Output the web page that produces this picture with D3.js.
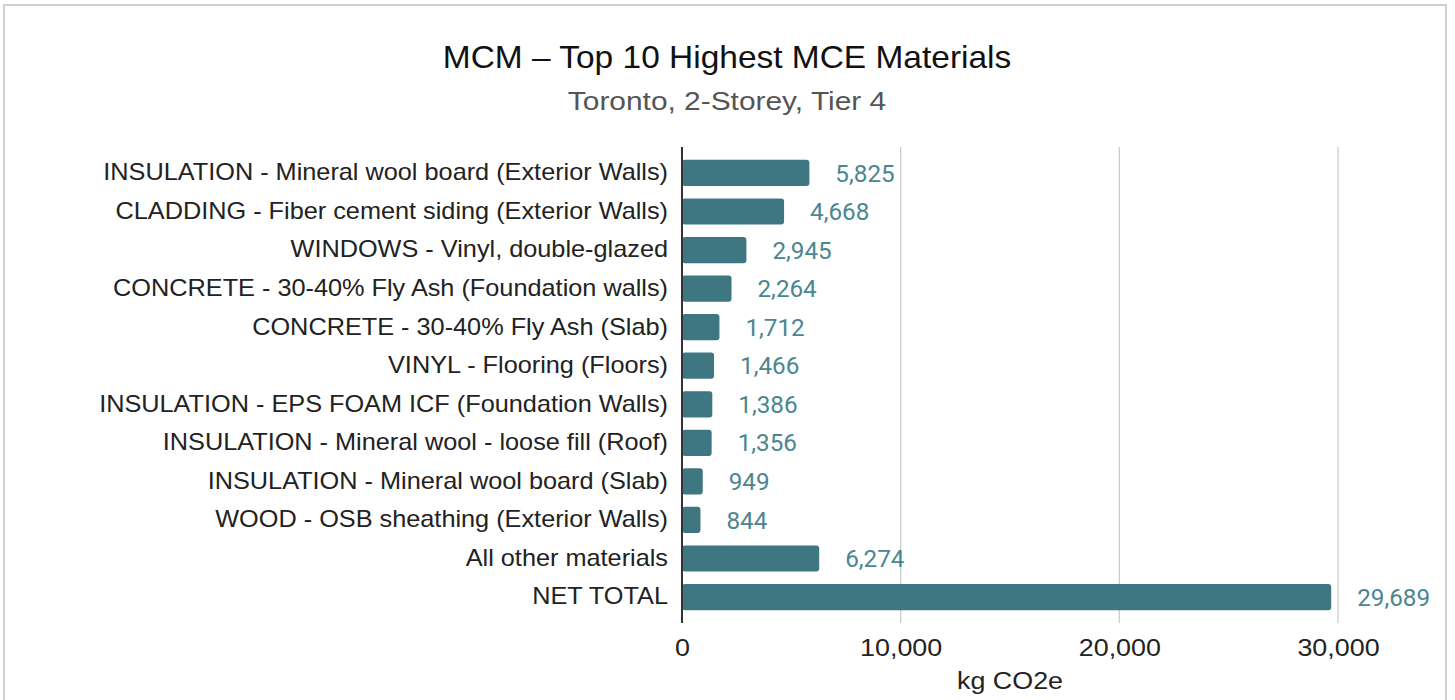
<!DOCTYPE html>
<html>
<head>
<meta charset="utf-8">
<script src="https://cdn.jsdelivr.net/npm/d3@7"></script>
<style>
  body { margin: 0; background: #fff; }
  svg text { font-family: "Liberation Sans", Arial, sans-serif; }
</style>
</head>
<body>
<div id="chart"></div>
<script>
// Data
var categories = [
  "INSULATION - Mineral wool board (Exterior Walls)",
  "CLADDING - Fiber cement siding (Exterior Walls)",
  "WINDOWS - Vinyl, double-glazed",
  "CONCRETE - 30-40% Fly Ash (Foundation walls)",
  "CONCRETE - 30-40% Fly Ash (Slab)",
  "VINYL - Flooring (Floors)",
  "INSULATION - EPS FOAM ICF (Foundation Walls)",
  "INSULATION - Mineral wool - loose fill (Roof)",
  "INSULATION - Mineral wool board (Slab)",
  "WOOD - OSB sheathing (Exterior Walls)",
  "All other materials",
  "NET TOTAL"
];
var values = [5825, 4668, 2945, 2264, 1712, 1466, 1386, 1356, 949, 844, 6274, 29689];
var xTicks = [0, 10000, 20000, 30000];

var width = 1455;
var height = 700;
var margin = { top: 147, right: 117, bottom: 77, left: 682 };
var plotH = height - margin.top - margin.bottom;

// stretch text horizontally around its anchor
function stretch(sel, sx) {
  sel.each(function () {
    var t = d3.select(this);
    var x = +t.attr('x') || 0;
    var y = +t.attr('y') || 0;
    t.attr('x', 0).attr('y', 0)
     .attr('transform', 'translate(' + x + ',' + y + ') scale(' + sx + ',1)');
  });
}

var svg = d3.select('#chart')
  .append('svg')
  .attr('width', width)
  .attr('height', height);

// border
svg.append('rect')
  .attr('x', 4).attr('y', 5)
  .attr('width', 1442).attr('height', 700)
  .attr('fill', 'none')
  .attr('stroke', '#d0d0d0')
  .attr('stroke-width', 2);

// titles
svg.append('text')
  .attr('x', 727).attr('y', 68)
  .attr('text-anchor', 'middle')
  .style('font-size', '31px')
  .style('fill', '#111')
  .text('MCM \u2013 Top 10 Highest MCE Materials')
  .call(stretch, 1.08);

svg.append('text')
  .attr('x', 727).attr('y', 110)
  .attr('text-anchor', 'middle')
  .style('font-size', '26px')
  .style('fill', '#555')
  .text('Toronto, 2-Storey, Tier 4')
  .call(stretch, 1.15);

var g = svg.append('g')
  .attr('transform', 'translate(' + margin.left + ',' + margin.top + ')');

// Scales
var xScale = d3.scaleLinear().domain([0, 30000]).range([0, 656]);
var yScale = d3.scaleBand().domain(categories).range([6.3, 469.7]).paddingInner(0.32).paddingOuter(0.17);

// grid
g.selectAll('.grid')
  .data(xTicks.slice(1))
  .enter().append('line')
  .attr('class', 'grid')
  .attr('x1', d => xScale(d)).attr('x2', d => xScale(d))
  .attr('y1', 0).attr('y2', plotH)
  .attr('stroke', '#cccccc')
  .attr('stroke-width', 1.3);

// x axis labels
var xAxis = d3.axisBottom(xScale).tickValues(xTicks).tickFormat(d3.format(',')).tickSize(0).tickPadding(16);
var xg = g.append('g')
  .attr('transform', 'translate(0,' + plotH + ')')
  .call(xAxis);
xg.select('.domain').remove();
xg.selectAll('text')
  .style('font-size', '24px')
  .style('fill', '#222')
  .style('font-family', '"Liberation Sans", Arial, sans-serif')
  .call(stretch, 1.12);

// y axis labels
var yAxis = d3.axisLeft(yScale).tickSize(0).tickPadding(14);
var yg = g.append('g').call(yAxis);
yg.select('.domain').remove();
yg.selectAll('text')
  .style('font-size', '23px')
  .style('fill', '#222')
  .style('font-family', '"Liberation Sans", Arial, sans-serif')
  .call(stretch, 1.1);

// bars
g.selectAll('.bar')
  .data(values)
  .enter().append('rect')
  .attr('class', 'bar')
  .attr('x', 0)
  .attr('y', (d, i) => yScale(categories[i]))
  .attr('width', d => xScale(d))
  .attr('height', yScale.bandwidth())
  .attr('rx', 3)
  .attr('fill', '#3e7681');

// value labels
g.selectAll('.val')
  .data(values)
  .enter().append('text')
  .attr('class', 'val')
  .attr('x', d => xScale(d) + 26)
  .attr('y', (d, i) => yScale(categories[i]) + yScale.bandwidth() / 2)
  .attr('dy', '0.36em')
  .style('font-family', 'Roboto, sans-serif')
  .style('font-size', '24px')
  .style('fill', '#4a8690')
  .text(d => d3.format(',')(d))
  .call(stretch, 1.01);

// zero axis line
g.append('line')
  .attr('x1', 0).attr('x2', 0)
  .attr('y1', 0).attr('y2', plotH)
  .attr('stroke', '#333')
  .attr('stroke-width', 2);

// axis title
svg.append('text')
  .attr('x', margin.left + 328).attr('y', 689)
  .attr('text-anchor', 'middle')
  .style('font-size', '24px')
  .style('fill', '#222')
  .text('kg CO2e')
  .call(stretch, 1.12);
</script>
</body>
</html>
